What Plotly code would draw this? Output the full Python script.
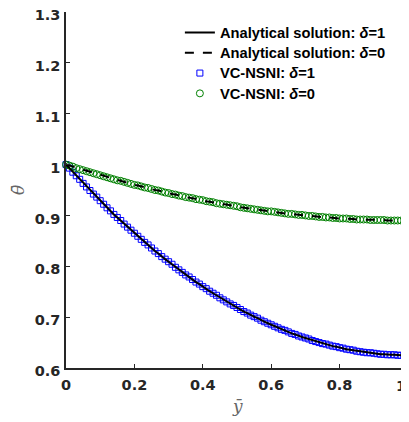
import plotly.graph_objects as go

# y-bar positions (0 to 1 in steps of 0.01)
y_bar = [round(i * 0.01, 2) for i in range(101)]

# theta-bar, delta = 1
theta_d1 = [
    1.000, 0.993, 0.985, 0.978, 0.971, 0.963, 0.956, 0.949, 0.942, 0.936,
    0.929, 0.922, 0.915, 0.909, 0.902, 0.896, 0.890, 0.883, 0.877, 0.871,
    0.865, 0.859, 0.853, 0.847, 0.842, 0.836, 0.830, 0.825, 0.819, 0.814,
    0.809, 0.804, 0.798, 0.793, 0.788, 0.783, 0.779, 0.774, 0.769, 0.765,
    0.760, 0.756, 0.751, 0.747, 0.743, 0.738, 0.734, 0.730, 0.726, 0.723,
    0.719, 0.715, 0.711, 0.708, 0.704, 0.701, 0.698, 0.694, 0.691, 0.688,
    0.685, 0.682, 0.679, 0.676, 0.674, 0.671, 0.668, 0.666, 0.663, 0.661,
    0.659, 0.657, 0.654, 0.652, 0.650, 0.648, 0.647, 0.645, 0.643, 0.642,
    0.640, 0.639, 0.637, 0.636, 0.635, 0.633, 0.632, 0.631, 0.630, 0.630,
    0.629, 0.628, 0.627, 0.627, 0.626, 0.626, 0.626, 0.625, 0.625, 0.625,
    0.625,
]

# theta-bar, delta = 0
theta_d0 = [
    1.000, 0.998, 0.996, 0.993, 0.991, 0.989, 0.987, 0.985, 0.983, 0.981,
    0.979, 0.977, 0.975, 0.973, 0.971, 0.969, 0.968, 0.966, 0.964, 0.962,
    0.960, 0.959, 0.957, 0.955, 0.954, 0.952, 0.950, 0.949, 0.947, 0.945,
    0.944, 0.942, 0.941, 0.939, 0.938, 0.936, 0.935, 0.934, 0.932, 0.931,
    0.930, 0.928, 0.927, 0.926, 0.924, 0.923, 0.922, 0.921, 0.920, 0.919,
    0.918, 0.916, 0.915, 0.914, 0.913, 0.912, 0.911, 0.910, 0.909, 0.908,
    0.908, 0.907, 0.906, 0.905, 0.904, 0.903, 0.903, 0.902, 0.901, 0.901,
    0.900, 0.899, 0.899, 0.898, 0.897, 0.897, 0.896, 0.896, 0.895, 0.895,
    0.894, 0.894, 0.894, 0.893, 0.893, 0.892, 0.892, 0.892, 0.892, 0.891,
    0.891, 0.891, 0.891, 0.891, 0.890, 0.890, 0.890, 0.890, 0.890, 0.890,
    0.890,
]

x_tickvals = [0, 0.2, 0.4, 0.6, 0.8, 1]
x_ticktext = ["0", "0.2", "0.4", "0.6", "0.8", "1"]
y_tickvals = [0.6, 0.7, 0.8, 0.9, 1.0, 1.1, 1.2, 1.3]
y_ticktext = ["0.6", "0.7", "0.8", "0.9", "1", "1.1", "1.2", "1.3"]

names = [
    "Analytical solution: <i>δ</i>=1",
    "Analytical solution: <i>δ</i>=0",
    "VC-NSNI: <i>δ</i>=1",
    "VC-NSNI: <i>δ</i>=0",
]


def leg(t):
    return '<span style="font-size:14.7px">' + t + "</span>"


fig = go.Figure()

fig.add_trace(go.Scatter(
    x=y_bar, y=theta_d1, mode="markers", name=leg(names[2]), legendrank=3,
    cliponaxis=False,
    marker=dict(symbol="square-open", size=6, color="rgb(0,0,255)",
                line=dict(width=1, color="rgb(0,0,255)")),
))
fig.add_trace(go.Scatter(
    x=y_bar, y=theta_d0, mode="markers", name=leg(names[3]), legendrank=4,
    cliponaxis=False,
    marker=dict(symbol="circle-open", size=7, color="rgb(0,128,0)",
                line=dict(width=1, color="rgb(0,128,0)")),
))
fig.add_trace(go.Scatter(
    x=y_bar, y=theta_d1, mode="lines", name=leg(names[0]), legendrank=1,
    line=dict(color="black", width=2),
))
fig.add_trace(go.Scatter(
    x=y_bar, y=theta_d0, mode="lines", name=leg(names[1]), legendrank=2,
    line=dict(color="black", width=2, dash="dash"),
))

tick_font = dict(family="DejaVu Sans, sans-serif", size=14.5,
                 color="#262626", weight="bold")

axis_common = dict(
    showgrid=False, zeroline=False, showline=True, linecolor="#262626",
    linewidth=1.5, ticks="inside", ticklen=4, tickcolor="#262626",
    tickwidth=1.2, automargin=False, ticklabeloverflow="allow",
    tickfont=tick_font,
)

# last x label ("1") is drawn as an annotation so it stays inside the page
fig.update_xaxes(range=[0, 1], tickmode="array", tickvals=x_tickvals,
                 ticktext=x_ticktext[:-1] + [""], ticklabelstandoff=3,
                 **axis_common)
fig.update_yaxes(range=[0.6, 1.3], tickmode="array", tickvals=y_tickvals,
                 ticktext=y_ticktext, ticklabelshift=3, ticklabelstandoff=1,
                 **axis_common)

fig.add_annotation(text=x_ticktext[-1], xref="paper", yref="paper",
                   x=1, y=0, yshift=-18, showarrow=False,
                   xanchor="right", yanchor="middle", font=tick_font)

title_font = dict(family="DejaVu Serif, serif", size=17, color="#666666")
fig.add_annotation(text="<i>y\u0304</i>", xref="paper", yref="paper",
                   x=0.5, y=0, yshift=-38, showarrow=False,
                   xanchor="center", yanchor="middle", font=title_font)
fig.add_annotation(text="<i>θ\u0304</i>", xref="paper", yref="paper",
                   x=0, y=0.5, xshift=-48, showarrow=False, textangle=-90,
                   xanchor="center", yanchor="middle", font=title_font)

fig.update_layout(
    width=401, height=414,
    margin=dict(l=58, r=1, t=4, b=54),
    paper_bgcolor="white", plot_bgcolor="white",
    legend=dict(
        x=0.333, xanchor="left", y=0.985, yanchor="top",
        bgcolor="rgba(255,255,255,0)",
        font=dict(family="Liberation Sans, Arial, sans-serif", size=13.3,
                  color="black", weight="bold"),
        tracegroupgap=0, itemwidth=30,
    ),
)

fig.write_html("out.html")
